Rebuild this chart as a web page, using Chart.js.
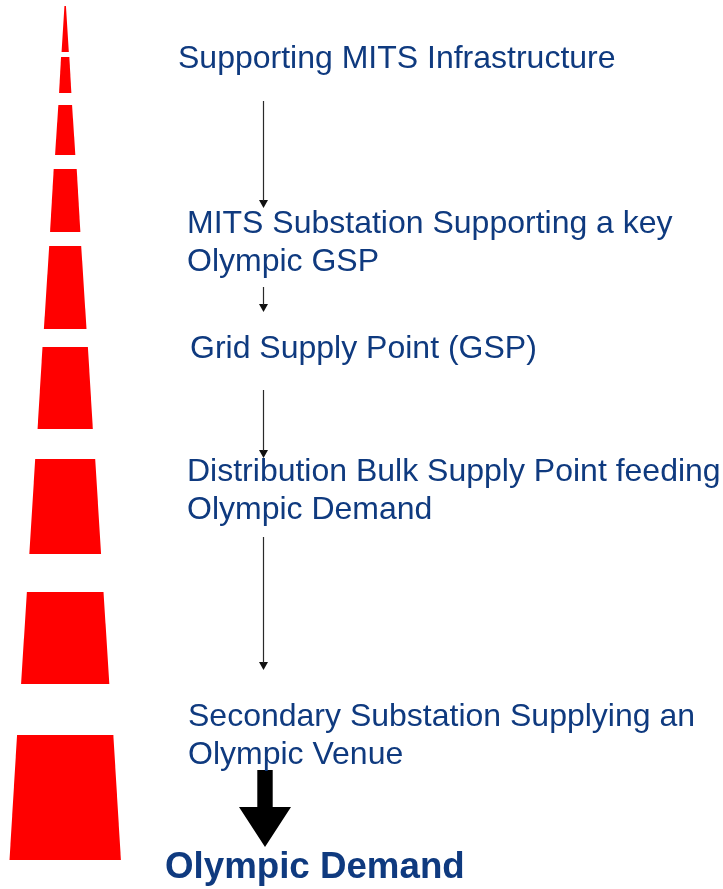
<!DOCTYPE html>
<html>
<head>
<meta charset="utf-8">
<script src="https://cdn.jsdelivr.net/npm/chart.js@4/dist/chart.umd.min.js"></script>
<style>
  html, body { margin: 0; padding: 0; background: #ffffff; }
  #wrap { width: 723px; height: 889px; }
</style>
</head>
<body>
<div id="wrap"><canvas id="c" width="723" height="889"></canvas></div>
<script>
// ---------- data ----------
// red tapering tower: 9 trapezoid segments (top y, bottom y, top width, bottom width)
const segTopY        = [6, 57, 105, 169, 246, 347, 459, 592, 735];
const segBottomY     = [52, 93, 155, 232, 329, 429, 554, 684, 860];
const segTopWidth    = [1.5, 8.3, 13.7, 23, 32, 45.4, 60, 76.6, 96.3];
const segBottomWidth = [7.3, 12.3, 20.3, 30.3, 42.6, 55.3, 71.7, 88.3, 111.4];
const towerCenterX   = 65.2;

// thin connector arrows (start y, tip y)
const arrowStartY = [101, 287, 390, 537];
const arrowTipY   = [208, 312, 458, 670];
const arrowX      = 263.5;

// big final arrow (shaft top, head top, tip)
const bigArrow = { x: 265, shaftTop: 770, headTop: 807, tip: 847 };

// stage labels (text lines)
const stageLabels = [
  ["Supporting MITS Infrastructure"],
  ["MITS Substation Supporting a key", "Olympic GSP"],
  ["Grid Supply Point (GSP)"],
  ["Distribution Bulk Supply Point feeding", "Olympic Demand"],
  ["Secondary Substation Supplying an", "Olympic Venue"]
];
const finalLabel = "Olympic Demand";

// ---------- layout (positions / styles) ----------
const labelX = [178, 187, 190, 187, 188];
const labelBaseY = [68, 233, 358, 481, 726];
const lineHeight = 38;
const finalLabelPos = { x: 165, y: 878 };
const textColor = "#0f3a7f";
const red = "#ff0000";

// ---------- datasets ----------
const datasets = [];
for (let i = 0; i < segTopY.length; i++) {
  const tw = segTopWidth[i] / 2, bw = segBottomWidth[i] / 2;
  datasets.push({
    data: [
      { x: towerCenterX - tw, y: segTopY[i] },
      { x: towerCenterX + tw, y: segTopY[i] },
      { x: towerCenterX + bw, y: segBottomY[i] },
      { x: towerCenterX - bw, y: segBottomY[i] },
      { x: towerCenterX - tw, y: segTopY[i] }
    ],
    fill: 'shape',
    backgroundColor: red,
    borderColor: red,
    borderWidth: 0,
    pointRadius: 0,
    tension: 0
  });
}
const headHalf = 4.5, headLen = 8;
for (let i = 0; i < arrowStartY.length; i++) {
  datasets.push({
    data: [
      { x: arrowX, y: arrowStartY[i] },
      { x: arrowX, y: arrowTipY[i] - headLen + 1 }
    ],
    fill: false,
    borderColor: "#2a2a2a",
    borderWidth: 1.2,
    pointRadius: 0
  });
  datasets.push({
    data: [
      { x: arrowX - headHalf, y: arrowTipY[i] - headLen },
      { x: arrowX + headHalf, y: arrowTipY[i] - headLen },
      { x: arrowX, y: arrowTipY[i] },
      { x: arrowX - headHalf, y: arrowTipY[i] - headLen }
    ],
    fill: 'shape',
    backgroundColor: "#111111",
    borderColor: "#111111",
    borderWidth: 0,
    pointRadius: 0
  });
}
const shaftHalf = 7.7, bigHeadHalf = 26;
datasets.push({
  data: [
    { x: bigArrow.x - shaftHalf, y: bigArrow.shaftTop },
    { x: bigArrow.x + shaftHalf, y: bigArrow.shaftTop },
    { x: bigArrow.x + shaftHalf, y: bigArrow.headTop },
    { x: bigArrow.x + bigHeadHalf, y: bigArrow.headTop },
    { x: bigArrow.x, y: bigArrow.tip },
    { x: bigArrow.x - bigHeadHalf, y: bigArrow.headTop },
    { x: bigArrow.x - shaftHalf, y: bigArrow.headTop },
    { x: bigArrow.x - shaftHalf, y: bigArrow.shaftTop }
  ],
  fill: 'shape',
  backgroundColor: "#000000",
  borderColor: "#000000",
  borderWidth: 0,
  pointRadius: 0
});

// ---------- text plugin ----------
const labelPlugin = {
  id: 'stageLabels',
  afterDatasetsDraw(chart) {
    const { ctx, scales: { x, y } } = chart;
    ctx.save();
    ctx.fillStyle = textColor;
    ctx.textBaseline = 'alphabetic';
    ctx.textAlign = 'left';
    ctx.font = '32px "Liberation Sans", Arial, sans-serif';
    stageLabels.forEach((lines, i) => {
      lines.forEach((t, j) => {
        ctx.fillText(t, x.getPixelForValue(labelX[i]), y.getPixelForValue(labelBaseY[i] + j * lineHeight));
      });
    });
    ctx.font = 'bold 36.7px "Liberation Sans", Arial, sans-serif';
    ctx.fillText(finalLabel, x.getPixelForValue(finalLabelPos.x), y.getPixelForValue(finalLabelPos.y));
    ctx.restore();
  }
};

new Chart(document.getElementById('c'), {
  type: 'line',
  data: { datasets },
  options: {
    responsive: false,
    animation: false,
    devicePixelRatio: 1,
    layout: { padding: 0 },
    scales: {
      x: { type: 'linear', min: 0, max: 723, display: false },
      y: { type: 'linear', min: 0, max: 889, reverse: true, display: false }
    },
    plugins: {
      legend: { display: false },
      tooltip: { enabled: false },
      title: { display: false }
    },
    elements: { line: { tension: 0 } }
  },
  plugins: [labelPlugin]
});
</script>
</body>
</html>
